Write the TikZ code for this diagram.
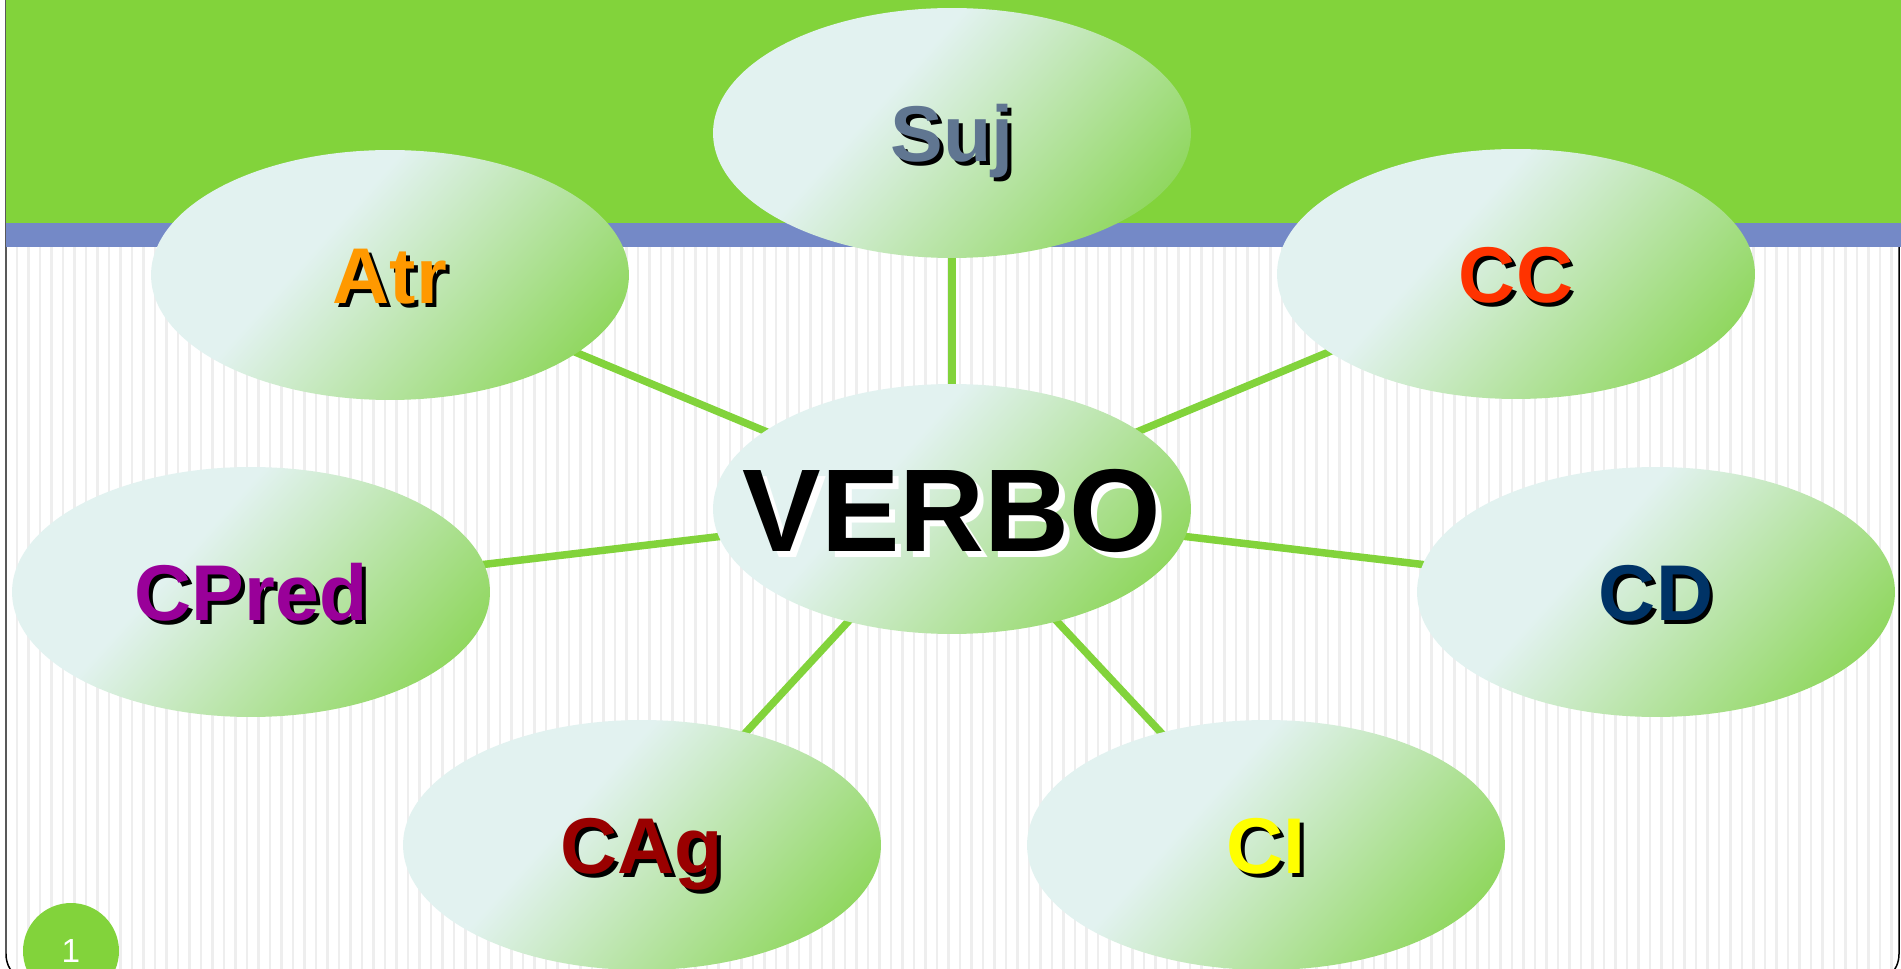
\documentclass[tikz,border=0pt]{standalone}
\usepackage{fontspec}
\setmainfont{Liberation Sans}
\usetikzlibrary{shapes.geometric}

\definecolor{leafgreen}{RGB}{130,211,59}
\definecolor{bandblue}{RGB}{116,137,199}
\definecolor{paleblue}{RGB}{226,242,240}
\definecolor{ovalgreen}{RGB}{132,211,74}
\definecolor{sujcol}{RGB}{96,118,145}
\definecolor{atrcol}{RGB}{255,153,0}
\definecolor{cccol}{RGB}{255,51,0}
\definecolor{cpredcol}{RGB}{153,0,153}
\definecolor{cdcol}{RGB}{0,51,102}
\definecolor{cagcol}{RGB}{153,0,0}
\definecolor{cicol}{RGB}{255,255,0}

\pgfdeclarehorizontalshading{ovalfill}{100bp}{color(0bp)=(paleblue); color(40bp)=(paleblue); color(82bp)=(ovalgreen); color(100bp)=(ovalgreen)}

\pgfdeclarelayer{bg}
\pgfdeclarelayer{links}
\pgfsetlayers{bg,links,main}

% text with a drop shadow: colour, shadow colour, text
\newcommand{\shadowed}[3]{\makebox[0pt]{\rlap{\raisebox{-0.05em}{\hspace{0.05em}\textcolor{#2}{#3}}}\textcolor{#1}{#3}}}

\begin{document}
\begin{tikzpicture}[x=0.02cm, y=-0.02cm,
        oval/.style={ellipse, minimum width=9.56cm, minimum height=5cm, inner sep=0pt,
            shading=ovalfill, shading angle=-42,
            font=\fontsize{45}{45}\selectfont\bfseries, text height=32.2pt, text depth=0pt},
        link/.style={leafgreen, line width=0.15cm},
        stripe/.style={gray!13, line width=0.05cm}]
        \useasboundingbox (0,0) rectangle (1901,969);

        \begin{pgfonlayer}{bg}
        \begin{scope}
        \clip (0,0) rectangle (1901,969);
        \fill[white] (0,0) rectangle (1901,969);
        \foreach \x in {17,28.5,...,1895}
            \draw[stripe] (\x,247) -- (\x,969);
        \draw[line width=0.03cm, rounded corners=0.6cm] (6,-40) rectangle (1899,984);
        \fill[leafgreen] (6,0) rectangle (1901,223);
        \fill[bandblue] (6,223) rectangle (1901,247);
        \end{scope}
        \end{pgfonlayer}

        \node[oval] (suj) at (952,133) {\shadowed{sujcol}{black}{Suj}};
        \node[oval] (atr) at (390,275) {\shadowed{atrcol}{black}{Atr}};
        \node[oval] (cc) at (1516,274) {\shadowed{cccol}{black}{CC}};
        \node[oval, font=\fontsize{67}{67}\selectfont\bfseries, text height=48pt] (verbo) at (952,509) {\shadowed{black}{white}{VERBO}};
        \node[oval] (cpred) at (251,592) {\shadowed{cpredcol}{black}{CPred}};
        \node[oval] (cd) at (1656,592) {\shadowed{cdcol}{black}{CD}};
        \node[oval] (cag) at (642,845) {\shadowed{cagcol}{black}{CAg}};
        \node[oval] (ci) at (1266,845) {\shadowed{cicol}{black}{CI}};

        \begin{pgfonlayer}{links}
        \foreach \n in {suj,atr,cc,cpred,cd,cag,ci}
            \draw[link] (verbo.center) -- (\n.center);
        \end{pgfonlayer}

        \node[circle, fill=leafgreen, minimum size=1.92cm, inner sep=0pt, text=white,
            font=\fontsize{19}{19}\selectfont] (slidenum) at (71,951) {1};
    \end{tikzpicture}
\end{document}
